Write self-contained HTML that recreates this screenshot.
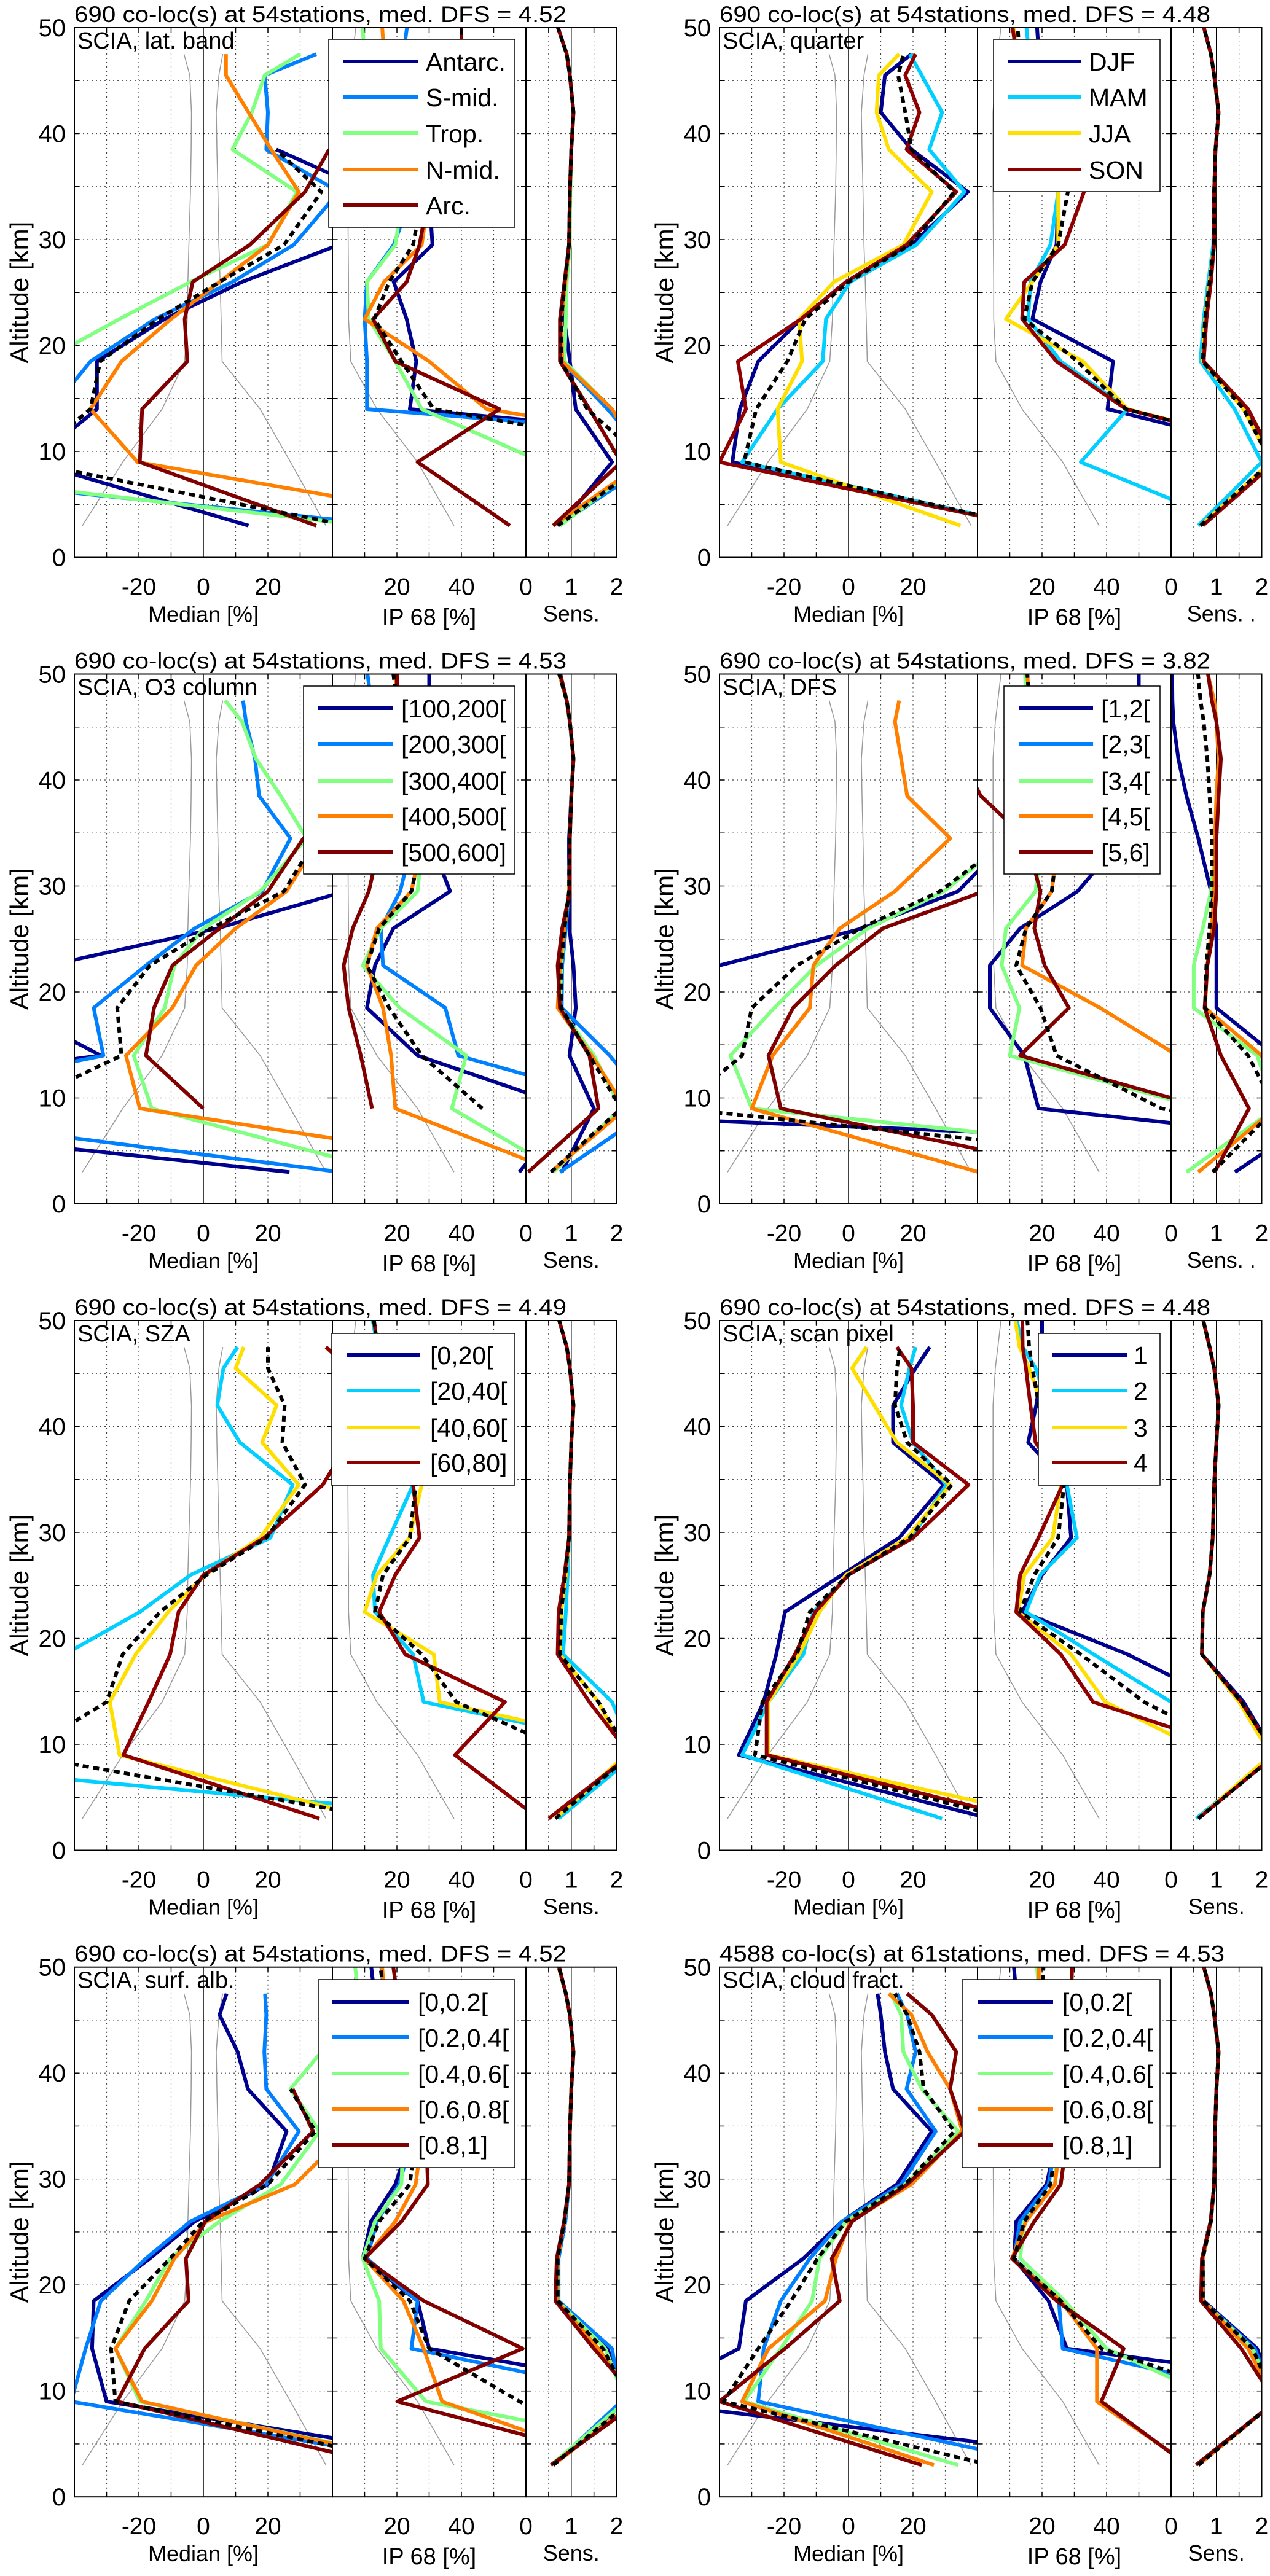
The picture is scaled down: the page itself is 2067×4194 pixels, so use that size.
<!DOCTYPE html>
<html><head><meta charset="utf-8"><title>SCIA validation profiles</title>
<style>
html,body{margin:0;padding:0;background:#fff;}
svg{display:block;font-family:"Liberation Sans",Arial,sans-serif;}
</style></head>
<body>
<svg id="fig" xmlns="http://www.w3.org/2000/svg" width="2067" height="4194" viewBox="0 0 2067 4194"></svg>
<script>
// ---------- data ----------
const altMed = [3,9,14,18.5,22.5,26,29.5,34.5,38.5,42,45.5,47.5];
const altProf = [3,9,14,18.5,22.5,26,29.5,34.5,38.5,42,45.5,47.5,52];
const grayMedL = [-37.5,-25,-12.8,-5.8,-5,-4.8,-4.5,-4,-3.8,-3.7,-4.2,-6];
const grayMedR = [38,27,17.6,5.8,5.5,5.2,4.8,4.5,4.2,4,4.8,6];
const grayIp = [37.7,26.4,13.8,5.7,5,5,4.9,4.8,4.8,4.8,5.5,6.3,8];

const titles = ["690 co-loc(s) at 54stations, med. DFS = 4.52","690 co-loc(s) at 54stations, med. DFS = 4.48","690 co-loc(s) at 54stations, med. DFS = 4.53","690 co-loc(s) at 54stations, med. DFS = 3.82","690 co-loc(s) at 54stations, med. DFS = 4.49","690 co-loc(s) at 54stations, med. DFS = 4.48","690 co-loc(s) at 54stations, med. DFS = 4.52","4588 co-loc(s) at 61stations, med. DFS = 4.53"];
const subtitles = ["SCIA, lat. band","SCIA, quarter","SCIA, O3 column","SCIA, DFS","SCIA, SZA","SCIA, scan pixel","SCIA, surf. alb.","SCIA, cloud fract."];
const p1Labels = ["Antarc.","S-mid.","Trop.","N-mid.","Arc."];
const p2Labels = ["DJF","MAM","JJA","SON"];
const p3Labels = ["[100,200[","[200,300[","[300,400[","[400,500[","[500,600]"];
const p4Labels = ["[1,2[","[2,3[","[3,4[","[4,5[","[5,6]"];
const p5Labels = ["[0,20[","[20,40[","[40,60[","[60,80]"];
const p6Labels = ["1","2","3","4"];
const p7Labels = ["[0,0.2[","[0.2,0.4[","[0.4,0.6[","[0.6,0.8[","[0.8,1]"];
const p8Labels = ["[0,0.2[","[0.2,0.4[","[0.4,0.6[","[0.6,0.8[","[0.8,1]"];

// panel 1: lat band
const p1Med = [
 [14,-53,-33,-33,-12,12,42,52,22.6,null,null,null],
 [59,-133,-47,-35,-15,9,28,42,19.5,20,19,35],
 [50,-120,-60,-50,-26,-4,20,29,9,15,19,30],
 [93,-20.4,-35,-25.4,-10,5,20,29.6,21,14,7,7],
 [35,-19.7,-19,-5,-5.8,-3.3,14.4,31.5,39,null,null,null],
 [45,-55,-35,-32,-14,5,25,36.6,22.6,null,null,null]];
const p1Ip = [
 [200,200,24,26,23,19,31,30,30,30,35,40,40],
 [200,216,10.7,10.7,10,10.7,19,25,25,25,24,22,24],
 [100,65,27.7,19.5,11.3,10.7,19.5,22,20,15,12,10,8.8],
 [150,150,47.8,30,10,16,27.7,30,25,20,17,16,15],
 [55,26.4,51.8,19.5,12.6,23,27,30,35,40,40,40,40],
 [126,126,31.4,21.4,13,17.6,25,28,30,35,40,40,40]];
const p1Sens = [
 [0.75,1.9,1.1,0.97,0.85,0.88,0.95,0.97,1.0,1.05,0.97,0.9,0.55],
 [0.7,2.8,1.8,0.8,0.78,0.87,0.95,0.97,1.0,1.05,0.97,0.9,0.55],
 [0.75,2.6,1.9,0.85,0.88,0.9,0.97,0.98,1.0,1.05,0.97,0.9,0.55],
 [0.6,2.6,1.9,0.8,0.78,0.87,0.95,0.97,1.0,1.05,0.97,0.9,0.55],
 [0.6,2.1,1.4,0.75,0.75,0.85,0.95,0.97,1.0,1.05,0.97,0.9,0.55],
 [0.7,2.65,1.35,0.78,0.78,0.86,0.95,0.97,1.0,1.05,0.97,0.9,0.55]];

// panel 2: quarter
const p2Med = [
 [55,-36,-33.7,-28,-14.7,-0.8,19.5,37,19.5,10,11.3,19.5],
 [55,-33,-22,-8,-7,0.5,21,36,25,29,22.7,19],
 [34.7,-21,-22,-14.4,-15.3,-4.5,17,25.8,12.5,8.7,9.4,15.7],
 [55,-40,-31.8,-34.3,-14.7,-0.8,18,33.4,18,22,17.6,20.8],
 [55,-32.4,-28.6,-19,-13.4,0,19,32.8,19.5,17.6,15.4,17]];
const p2Ip = [
 [150,106,40.3,42,17,19.5,24.5,25,25,22,20,19,18],
 [80,32,46.5,25.8,15.7,16.4,22.6,25,24,22,18,16,14.5],
 [120,110,46.5,32.7,8.8,17,25,25,22,18,14,12,10.7],
 [120,110,46,24.5,13.8,14.5,27,33,28,20,15,12,10],
 [120,110,46,31,14.5,17,25,28,25,20,16,13,12]];
const p2Sens = [
 [0.65,2.3,1.6,0.72,0.78,0.85,0.95,0.95,0.98,1.05,0.95,0.88,0.6],
 [0.6,2.0,1.4,0.65,0.72,0.82,0.93,0.95,0.98,1.05,0.95,0.88,0.6],
 [0.65,2.2,1.6,0.7,0.75,0.85,0.95,0.95,0.98,1.05,0.95,0.88,0.6],
 [0.7,2.3,1.7,0.72,0.78,0.88,0.95,0.95,0.98,1.05,0.95,0.88,0.6],
 [0.65,2.2,1.6,0.7,0.75,0.85,0.95,0.95,0.98,1.05,0.95,0.88,0.6]];

// panel 3: O3 column
const p3Med = [
 [26.7,-158,-31.8,-60,-48,4.3,44,50,50,50,50,50],
 [42.6,-112,-31,-34,-17.8,-2.7,18.2,27,17.3,16,13.2,12.3],
 [58,-16,-21.6,-12,-9,0,17.6,32,24,16.3,12,6.8],
 [108,-19.7,-24,-9.6,-2.3,10,25.8,36,45,45,45,45],
 [null,0,-17.8,-15.3,-9.6,5,20,31,45,45,45,45],
 [null,-60,-25.4,-26.7,-16.6,2.4,25,35,45,45,45,45]];
const p3Ip = [
 [57.9,74.4,26.4,10.7,13.2,18.9,36.5,30,30,30,30,30,30],
 [100,97,39,35,15.7,15,21,25,25,20,15,12,10],
 [71,37,41.5,20.8,9.4,15,26.4,28,28,25,22,20,19],
 [70,19.5,18.2,15.7,10.7,13.8,24.5,28,28,25,22,20,19],
 [null,12.3,8.8,5,3.5,6.3,11.3,15,18,20,20,20,20],
 [null,46.5,27.7,17.6,10.7,14.5,24.5,28,28,25,22,20,18]];
const p3Sens = [
 [0.79,1.5,0.96,1.1,1.05,0.96,0.95,0.95,1.0,1.05,0.97,0.9,0.6],
 [0.75,2.8,1.85,0.79,0.8,0.88,0.95,0.97,1.0,1.05,0.97,0.9,0.6],
 [0.6,2.1,1.5,0.75,0.78,0.85,0.95,0.97,1.0,1.05,0.97,0.9,0.6],
 [0.55,2.2,1.45,0.7,0.75,0.85,0.95,0.97,1.0,1.05,0.97,0.9,0.6],
 [0.05,1.6,1.4,0.75,0.7,0.8,0.97,0.97,1.0,1.05,0.97,0.9,0.65],
 [0.55,2.1,1.4,0.78,0.78,0.85,0.95,0.97,1.0,1.05,0.97,0.9,0.6]];

// panel 4: DFS
const p4Med = [
 [344,-136,-70,-70,-40,4.3,34,50,50,50,50,50],
 [null,null,null,null,null,null,null,null,null,null,null,null],
 [160,-30,-36.6,-23,-10,6,29.6,50,50,50,50,50],
 [40.4,-30,-23.5,-12,-10.9,-2.7,14.4,31.5,18.2,16.3,14.4,15.7],
 [75,-21,-24.8,-17.2,-4,10.6,42,50,50,50,50,50],
 [138,-53,-33,-30,-16,3.7,28.4,50,50,50,50,50]];
const p4Ip = [
 [200,18.9,14.5,3.8,3.8,13.2,31,45,50,50,50,50,50],
 [null,null,null,null,null,null,null,null,null,null,null,null,null],
 [150,70,10,13,7.5,8.8,18,20,20,18,16,15,14.5],
 [150,150,62,38,13.8,15,23,25,25,22,18,16,15],
 [150,71.7,13.2,28.3,20.8,17.6,19.5,15,1,-5,-5,-5,-5],
 [150,57,24.5,19.5,12,15,23,25,25,22,18,16,15]];
const p4Sens = [
 [1.41,3.5,2.3,1.0,1.0,1.0,0.88,0.6,0.34,0.16,0.05,0.03,0.02],
 [null,null,null,null,null,null,null,null,null,null,null,null,null],
 [0.34,2.3,1.9,0.5,0.5,0.7,0.88,1.0,1.0,1.05,1.0,0.95,0.7],
 [0.6,2.3,2.0,0.75,0.8,0.9,0.95,0.97,1.0,1.05,1.0,0.95,0.7],
 [0.96,1.72,1.1,0.74,0.8,0.95,1.0,1.0,1.05,1.1,1.0,0.9,0.75],
 [0.92,2.3,1.7,0.75,0.78,0.85,0.9,0.9,0.85,0.8,0.72,0.65,0.55]];

// panel 5: SZA
const p5Med = [
 [null,null,null,null,null,null,null,null,null,null,null,null],
 [90,-124,-60,-43,-19.7,-3.9,20.8,27.7,11.3,4.3,6.2,10.6],
 [53,-26,-29,-21,-10.9,0.5,17.6,29.6,18.2,22.7,10,12.5],
 [36,-24.8,-17,-10.3,-7.7,0,18.9,37,45,45,45,38],
 [57,-57,-30,-25,-13.4,1,19.5,31.5,24.5,25.2,20,20]];
const p5Ip = [
 [null,null,null,null,null,null,null,null,null,null,null,null,null],
 [150,107,28.3,25,13.2,12.6,17.6,25,25,22,18,14,11.3],
 [150,107,33.3,31.4,10,13.8,23.9,27.7,25,22,18,14,12],
 [64,38,53.5,22.6,14.5,19.5,27,25,25,22,18,14,12],
 [150,75.6,38.4,27.7,13.2,15.7,24,25.8,25,22,18,14,12]];
const p5Sens = [
 [null,null,null,null,null,null,null,null,null,null,null,null,null],
 [0.72,2.4,1.9,0.82,0.88,0.92,0.95,0.97,1.0,1.05,0.97,0.9,0.6],
 [0.65,2.2,1.6,0.75,0.78,0.88,0.95,0.97,1.0,1.05,0.97,0.9,0.6],
 [0.5,2.3,1.4,0.7,0.72,0.85,0.95,0.97,1.0,1.05,0.97,0.9,0.6],
 [0.65,2.3,1.6,0.75,0.78,0.87,0.95,0.97,1.0,1.05,0.97,0.9,0.6]];

// panel 6: scan pixel
const p6Med = [
 [44,-34,-26.3,-22.4,-19.7,-2,15.7,29.6,13.8,13.8,20.8,25.2],
 [29,-33,-24.8,-14,-10.9,0,19.5,30.3,20,16.3,18.9,20.8],
 [64,-24.8,-24.8,-15.3,-9,-0.8,18.2,31.5,15,8,1.1,5.6],
 [54,-25.4,-25.4,-16.6,-10.3,0,20,37.2,20,20,19.5,15],
 [50,-29,-26.7,-16,-12,0,19,32,18.2,14.4,15,16]];
const p6Ip = [
 [150,120,76,46.5,13.8,20,29,27.7,15.7,18.2,20,20,20],
 [150,120,60,36,15,19.5,30.8,27.7,25,22,18,14,10.7],
 [150,72.5,39.6,29,12.6,14.5,23.3,25.8,24,20,16,13,10.7],
 [150,86,35.8,25.8,12,13.2,18.9,26.4,18,16.4,15,14,13.8],
 [150,84,51.6,32,13.2,17.6,25,26.8,22,19,17,16,15]];
const p6Sens = [
 [0.6,2.3,1.6,0.68,0.7,0.85,0.92,0.95,1.0,1.05,0.95,0.85,0.6],
 [0.55,2.3,1.55,0.68,0.7,0.85,0.92,0.95,1.0,1.05,0.95,0.85,0.6],
 [0.6,2.2,1.5,0.68,0.7,0.85,0.92,0.95,1.0,1.05,0.95,0.85,0.6],
 [0.6,2.3,1.55,0.68,0.7,0.85,0.92,0.95,1.0,1.05,0.95,0.85,0.6],
 [0.6,2.3,1.55,0.68,0.7,0.85,0.92,0.95,1.0,1.05,0.95,0.85,0.6]];

// panel 7: surface albedo
const p7Med = [
 [92,-30,-34.5,-34,-16.6,-2.7,20,25.8,13.8,10.6,5,7.2],
 [76,-41,-36.5,-31.8,-17.8,-4,19.5,29.6,19.5,18.9,19.5,19.1],
 [72,-19.7,-27.3,-17.8,-10.3,5,24,36,27,36.6,50,50],
 [70,-19,-27.3,-16,-9,1,28.4,45,50,50,50,50],
 [57,-26.7,-18.2,-4.6,-5.4,0.5,17.6,34,27.7,null,null,null],
 [69,-27.3,-28.6,-23,-10.3,0,20,34.7,27,null,null,null]];
const p7Ip = [
 [150,124,30,26.4,9.4,12,19.5,25,25,20,16,13,11.3],
 [150,103,24.5,26.4,10.7,13.8,20.8,25,25,22,18,16,14.5],
 [132,29,15,14.5,9.4,13.2,21.4,22,20,15,10,8,6.3],
 [90,34,28.3,22,10,19.5,25.8,28,25,22,18,16,15],
 [95,20.1,59,28.3,10,21.4,29.6,29,28,25,22,20,18],
 [100,58,30,24,10,14.5,24,26,25,22,18,16,14]];
const p7Sens = [
 [0.6,2.2,1.8,0.7,0.7,0.85,0.95,0.97,1.0,1.05,0.97,0.88,0.6],
 [0.6,2.1,1.9,0.72,0.72,0.87,0.95,0.97,1.0,1.05,0.97,0.88,0.6],
 [0.55,2.2,1.75,0.7,0.7,0.85,0.95,0.97,1.0,1.05,0.97,0.88,0.6],
 [0.6,2.4,1.6,0.68,0.7,0.85,0.95,0.97,1.0,1.05,0.97,0.88,0.6],
 [0.55,2.5,1.5,0.65,0.68,0.84,0.95,0.97,1.0,1.05,0.97,0.88,0.62],
 [0.6,2.3,1.7,0.7,0.7,0.85,0.95,0.97,1.0,1.05,0.97,0.88,0.6]];

// panel 8: cloud fraction
const p8Med = [
 [100,-65,-34,-31.8,-14,-2,15,25.8,13.8,11.3,10,9],
 [63,-28,-26.3,-21,-12,-2,16.3,27,18,20.8,18.2,15],
 [34,-32.4,-21,-11.3,-9,-0.8,17.6,34,22.7,17,16.3,13.2],
 [26.5,-33,-24.8,-7.3,-3.9,0.5,19.5,35.3,31.5,24.5,19.5,12.5],
 [22.7,-40,-19.7,-2.7,-5.2,1.1,18.2,36,31.5,33.4,25.8,18.2],
 [44,-38.7,-28,-17.8,-9.6,-0.8,17.6,32.8,23.3,22,18.2,14.4]];
const p8Ip = [
 [150,152,27.7,22,11.3,12,21.4,25,25,20,15,12,10.7],
 [150,99,26.4,25.2,11.3,13.2,22,25,25,22,20,19,18.2],
 [150,76,40,27,13.2,14.5,24,25,25,22,20,19,18],
 [65.7,37,37,25.8,10.7,15,24,26,25,22,20,19,19],
 [65,38.4,45.3,24.5,10.7,17.6,25.8,28,28,28,28,29,29.6],
 [150,87.5,38.4,25.8,11.3,14.5,22.6,25,25,22,20,20,20.8]];
const p8Sens = [
 [0.6,2.3,1.9,0.72,0.7,0.88,0.95,0.97,1.0,1.05,0.95,0.88,0.6],
 [0.6,2.3,1.85,0.7,0.7,0.88,0.95,0.97,1.0,1.05,0.95,0.88,0.6],
 [0.6,2.3,1.8,0.7,0.7,0.88,0.95,0.97,1.0,1.05,0.95,0.88,0.6],
 [0.6,2.3,1.7,0.7,0.7,0.88,0.95,0.97,1.0,1.05,0.95,0.88,0.6],
 [0.55,2.3,1.55,0.66,0.68,0.87,0.95,0.97,1.0,1.05,0.95,0.88,0.6],
 [0.6,2.3,1.8,0.7,0.7,0.88,0.95,0.97,1.0,1.05,0.95,0.88,0.6]];

const medTicks = [-20,0,20];
const ipTicks = [20,40];
const sensTicks = [0,1,2];
const altTicks = [0,10,20,30,40,50];

// ---------- drawing ----------
const NS = "http://www.w3.org/2000/svg";
const svg = document.getElementById("fig");
const colors5 = ["#00008f","#0080ff","#80ff80","#ff8000","#800000"];
const colors4 = ["#00008f","#00cfff","#ffdf00","#8f0000"];

const panels = [
 {labels:p1Labels, med:p1Med, ip:p1Ip, sens:p1Sens, cols:colors5, leg:[535,64,838,370,559,680,693,[100,158,217,276,334]], tl:801, sensLbl:"Sens."},
 {labels:p2Labels, med:p2Med, ip:p2Ip, sens:p2Sens, cols:colors4, leg:[1617,64,1888,312,1640,1759,1772,[100,158,217,276]], tl:799, sensLbl:"Sens. ."},
 {labels:p3Labels, med:p3Med, ip:p3Ip, sens:p3Sens, cols:colors5, leg:[494,1117,838,1423,518,640,653,[1153,1211,1271,1329,1387]], tl:801, sensLbl:"Sens."},
 {labels:p4Labels, med:p4Med, ip:p4Ip, sens:p4Sens, cols:colors5, leg:[1634,1117,1888,1423,1658,1779,1792,[1153,1211,1271,1329,1387]], tl:799, sensLbl:"Sens. ."},
 {labels:p5Labels, med:p5Med, ip:p5Ip, sens:p5Sens, cols:colors4, leg:[540,2171,838,2418,564,684,700,[2206,2264,2324,2381]], tl:801, sensLbl:"Sens."},
 {labels:p6Labels, med:p6Med, ip:p6Ip, sens:p6Sens, cols:colors4, leg:[1690,2171,1888,2418,1713,1835,1845,[2206,2264,2324,2381]], tl:799, sensLbl:"Sens."},
 {labels:p7Labels, med:p7Med, ip:p7Ip, sens:p7Sens, cols:colors5, leg:[518,3223,838,3529,541,665,680,[3259,3317,3376,3434,3492]], tl:801, sensLbl:"Sens."},
 {labels:p8Labels, med:p8Med, ip:p8Ip, sens:p8Sens, cols:colors5, leg:[1566,3223,1888,3529,1591,1714,1729,[3259,3317,3376,3434,3492]], tl:822, sensLbl:"Sens."}
];
const rowTops = [45,1097.5,2150,3202.7];
const rowH = 862.5;
const colLefts = [121,1171];
const W_MED = 420, W_IP = 315, W_SENS = 147.5;

function el(tag, attrs, parent){
  const e = document.createElementNS(NS, tag);
  for (const k in attrs) e.setAttribute(k, attrs[k]);
  (parent||svg).appendChild(e);
  return e;
}
function txt(s, attrs, parent){ const t = el("text", attrs, parent); t.textContent = s; return t; }

function drawSeries(g, vals, alts, sx, sy, color, dashed, name, width){
  let segs = [], cur = [];
  for (let i=0;i<vals.length;i++){
    if (vals[i]===null || vals[i]===undefined){ if(cur.length) segs.push(cur); cur=[]; continue; }
    cur.push(sx(vals[i]).toFixed(1)+","+sy(alts[i]).toFixed(1));
  }
  if (cur.length) segs.push(cur);
  segs.forEach(s=>{
    if (s.length<2) return;
    const p = el("polyline", {points:s.join(" "), fill:"none", stroke:color, "stroke-width":width||6, "stroke-linejoin":"round", "stroke-linecap":"butt"}, g);
    if (dashed) p.setAttribute("stroke-dasharray","10,7");
    
    
  });
}

let clipId = 0;
function subplot(pg, x0, y0, w, h, xmin, xmax, gridVals, solidVals, tickVals, tickLabels, name){
  const g = el("g", {}, pg);
  
  
  const sx = v => x0 + (v - xmin) / (xmax - xmin) * w;
  const sy = a => y0 + h - a / 50 * h;
  for (let a=5;a<50;a+=5){
    el("line",{x1:x0,x2:x0+w,y1:sy(a),y2:sy(a),stroke:"#444","stroke-width":1.2,"stroke-dasharray":"2,5"},g);
    el("line",{x1:x0,x2:x0+8,y1:sy(a),y2:sy(a),stroke:"#000","stroke-width":1.5},g);
    el("line",{x1:x0+w-8,x2:x0+w,y1:sy(a),y2:sy(a),stroke:"#000","stroke-width":1.5},g);
  }
  gridVals.forEach(v=>{
    el("line",{x1:sx(v),x2:sx(v),y1:y0,y2:y0+h,stroke:"#444","stroke-width":1.2,"stroke-dasharray":"2,5"},g);
    el("line",{x1:sx(v),x2:sx(v),y1:y0+h-8,y2:y0+h,stroke:"#000","stroke-width":1.5},g);
    el("line",{x1:sx(v),x2:sx(v),y1:y0,y2:y0+8,stroke:"#000","stroke-width":1.5},g);
  });
  solidVals.forEach(v=>{
    el("line",{x1:sx(v),x2:sx(v),y1:y0,y2:y0+h,stroke:"#000","stroke-width":1.5},g);
  });
  tickVals.forEach((v,i)=>{
    const t = txt(tickLabels[i], {x:sx(v), y:y0+h+61, "text-anchor":"middle", "font-size":39, fill:"#000"}, pg);
    
    
  });
  clipId++;
  const cp = el("clipPath",{id:"c"+clipId},g);
  el("rect",{x:x0,y:y0,width:w,height:h},cp);
  const dg = el("g",{"clip-path":"url(#c"+clipId+")"},g);
  return {g:dg, sx, sy, box:()=>el("rect",{x:x0,y:y0,width:w,height:h,fill:"none",stroke:"#000","stroke-width":2},g)};
}

panels.forEach((P, pi)=>{
  const row = Math.floor(pi/2), col = pi%2;
  const y0 = rowTops[row], x0 = colLefts[col], h = rowH;
  const pg = el("g",{});
  
  

  const t = txt(titles[pi], {x:x0, y:y0-9, "font-size":37, textLength:P.tl, lengthAdjust:"spacingAndGlyphs"}, pg);
  
  

  altTicks.forEach(a=>{
    const yt = txt(String(a), {x:x0-14, y:y0+h-a/50*h+14, "text-anchor":"end", "font-size":40}, pg);
    
    
  });
  const yl = txt("Altitude [km]", {x:0, y:0, "text-anchor":"middle", "font-size":42, transform:"translate("+(x0-75)+","+(y0+h/2)+") rotate(-90)"}, pg);
  
  

  const m = subplot(pg, x0, y0, W_MED, h, -40, 40, [-30,-20,-10,10,20,30], [0], medTicks, medTicks.map(String), 'median-subplot');
  drawSeries(m.g, grayMedL, altMed, m.sx, m.sy, "#999", false, 'uncertainty-left', 1.5);
  drawSeries(m.g, grayMedR, altMed, m.sx, m.sy, "#999", false, 'uncertainty-right', 1.5);
  P.med.forEach((s,i)=>{
    const dashed = i===P.med.length-1 && P.med.length>P.labels.length;
    drawSeries(m.g, s, altMed, m.sx, m.sy, dashed?"#000":P.cols[i], dashed, dashed?'median-all':'median-'+P.labels[i]);
  });
  m.box();

  const ip = subplot(pg, x0+W_MED, y0, W_IP, h, 0, 60, [10,20,30,40,50], [], ipTicks, ipTicks.map(String), 'ip68-subplot');
  drawSeries(ip.g, grayIp, altProf, ip.sx, ip.sy, "#999", false, 'ip-uncertainty', 1.5);
  P.ip.forEach((s,i)=>{
    const dashed = i===P.ip.length-1 && P.ip.length>P.labels.length;
    drawSeries(ip.g, s, altProf, ip.sx, ip.sy, dashed?"#000":P.cols[i], dashed, dashed?'ip68-all':'ip68-'+P.labels[i]);
  });
  ip.box();

  const se = subplot(pg, x0+W_MED+W_IP, y0, W_SENS, h, 0, 2, [0.5,1.5], [1], sensTicks, sensTicks.map(String), 'sens-subplot');
  P.sens.forEach((s,i)=>{
    const dashed = i===P.sens.length-1 && P.sens.length>P.labels.length;
    drawSeries(se.g, s, altProf, se.sx, se.sy, dashed?"#000":P.cols[i], dashed, dashed?'sens-all':'sens-'+P.labels[i]);
  });
  se.box();

  const xl1 = txt("Median [%]", {x:x0+W_MED/2, y:y0+h+105, "text-anchor":"middle", "font-size":36}, pg);
  
  
  const xl2 = txt("IP 68 [%]", {x:x0+W_MED+W_IP/2, y:y0+h+110, "text-anchor":"middle", "font-size":38}, pg);
  
  
  const xl3 = txt(P.sensLbl, {x:x0+W_MED+W_IP+W_SENS/2 + (P.sensLbl.length>5?8:0), y:y0+h+104, "text-anchor":"middle", "font-size":36}, pg);
  
  

  const st = txt(subtitles[pi], {x:x0+5, y:y0+34, "font-size":38}, pg);
  
  

  const L = P.leg;
  const lg = el("g",{},pg);
  
  
  el("rect",{x:L[0],y:L[1],width:L[2]-L[0],height:L[3]-L[1],fill:"#fff",stroke:"#000","stroke-width":1.5},lg);
  P.labels.forEach((lab,i)=>{
    const ln = el("line",{x1:L[4],x2:L[5],y1:L[7][i],y2:L[7][i],stroke:P.cols[i],"stroke-width":6},lg);
    
    
    const lt = txt(lab,{x:L[6],y:L[7][i]+15,"font-size":41},lg);
    
    
  });
});
</script>
</body></html>
